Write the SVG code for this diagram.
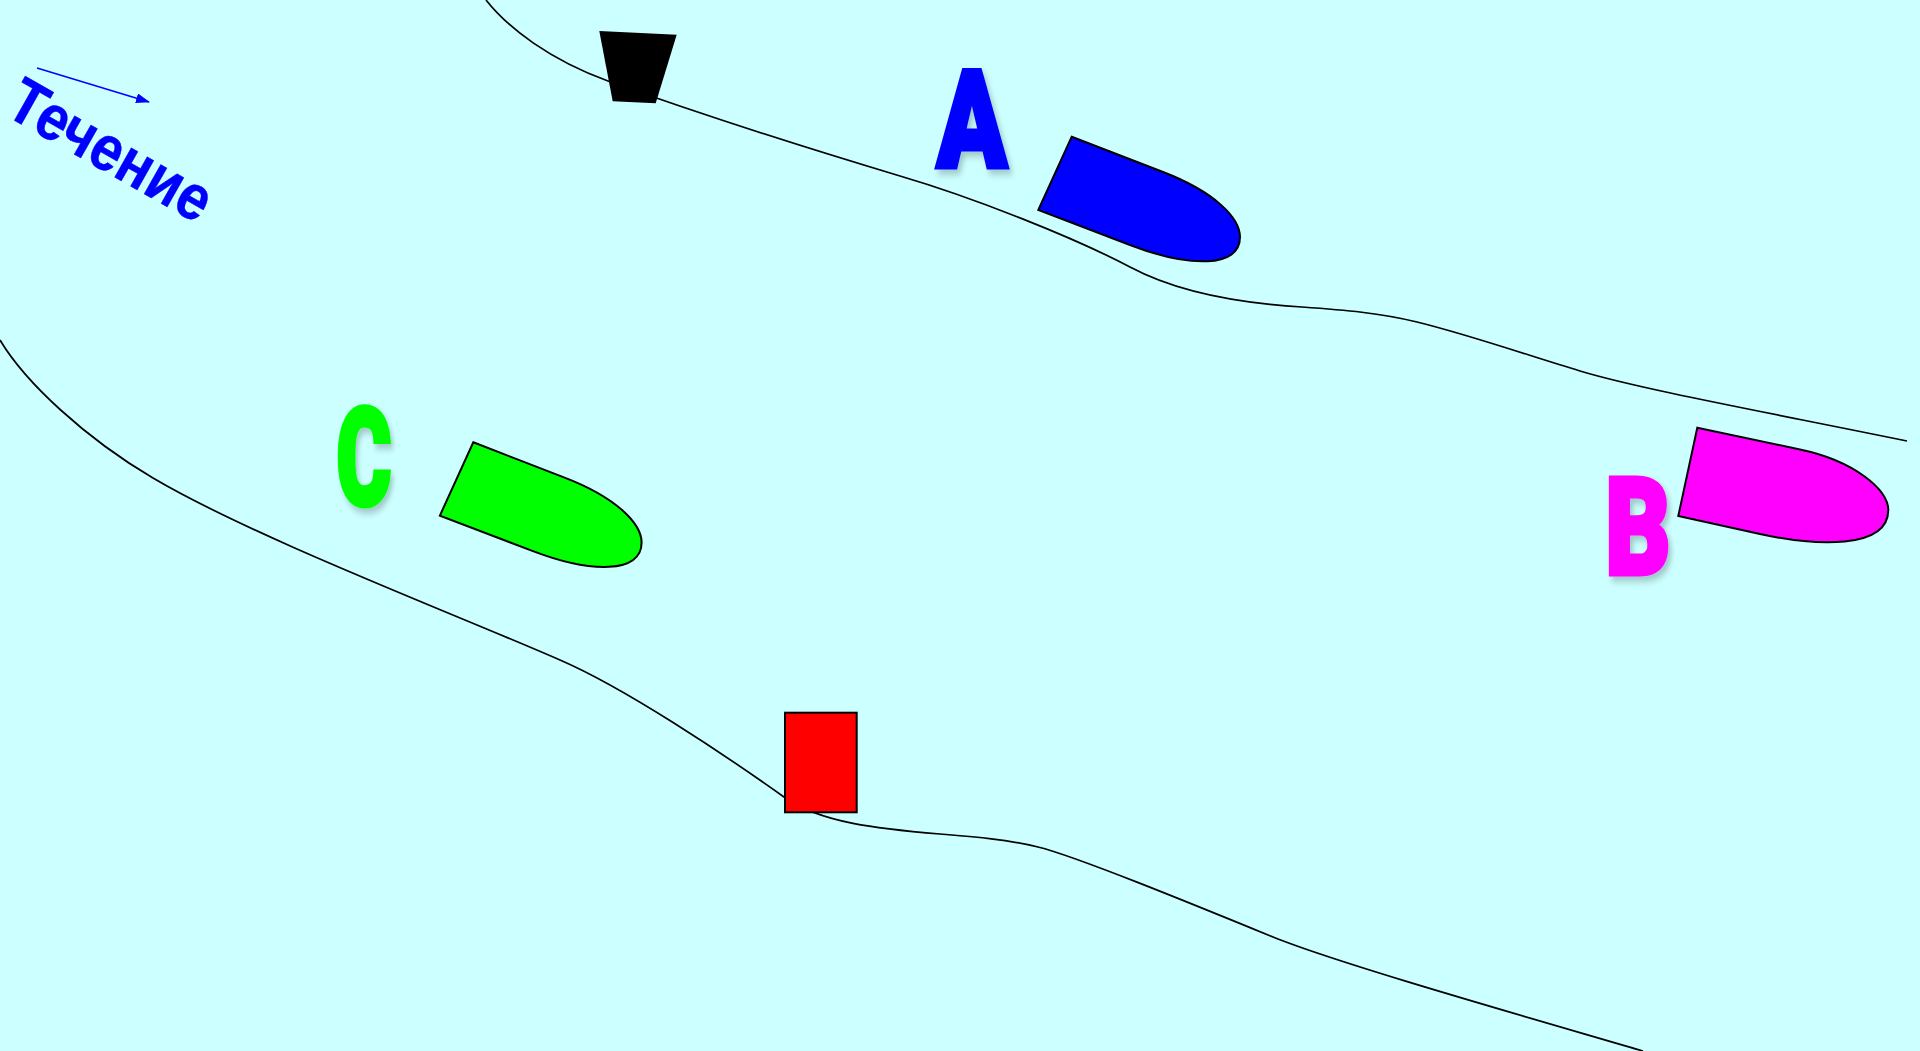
<svg xmlns="http://www.w3.org/2000/svg" width="1920" height="1051" viewBox="0 0 1920 1051">
<style>
.river{fill:none;stroke:#000;stroke-width:1.7}
.hull{stroke:#000;stroke-width:2}
.letter{font-family:Roboto,"Liberation Sans",Arial,sans-serif;font-weight:900;font-size:135px;text-anchor:middle;filter:url(#shadow);stroke-width:5}
.flow{font-family:"Liberation Sans",Arial,sans-serif;font-weight:700;font-size:57px;fill:#00f;stroke:#00f;stroke-width:.4}
</style>
<defs>
<filter id="shadow" x="-30%" y="-30%" width="160%" height="160%"><feDropShadow dx="4" dy="5" stdDeviation="3.5" flood-color="#000" flood-opacity="0.22"/></filter>
<marker id="arrow" markerUnits="userSpaceOnUse" markerWidth="14" markerHeight="10" refX="13" refY="5" orient="auto"><path d="M0 0L14 5L0 10Z" fill="#00f"/></marker>
</defs>
<rect width="1920" height="1051" fill="#ccffff"/>
<g id="connectors">
<path id="bank-upper" class="river" d="M486 0C508 28 550 60 608 81C700 114 800 146 900 176C975 198 1075 238 1130 267C1175 291 1235 303 1302 307C1345 310 1380 313 1417 322C1470 335 1530 356 1580 371C1640 389 1760 411 1907 441"/>
<path id="bank-lower" class="river" d="M0 340C25 382 85 438 153 478C253 537 450 612 560 660C625 688 725 755 784 797C820 823 880 829 940 834C970 836.5 1005 839 1038 847C1075 856 1190 903 1273 937C1340 964 1520 1015 1643 1051"/>
<line id="flow-arrow" x1="37" y1="68" x2="149" y2="102" stroke="#00f" stroke-width="1.6" marker-end="url(#arrow)"/>
</g>
<g id="label-flow"><text class="flow" transform="translate(3 114) rotate(29.5) scale(.98 1.12)">Течение</text></g>
<g id="pier-black"><polygon points="599.3,31 676.7,34.7 655.7,103.3 612.7,101.3" fill="#000"/></g>
<g id="pier-red"><rect x="785" y="712.7" width="71.7" height="99.6" fill="#f00" stroke="#000" stroke-width="2"/></g>
<g id="ship-a"><path class="hull" fill="#00f" d="M1071.7 136.7L1163 172C1215 192 1240 218 1240 237C1240 268 1190 268 1130 245L1038.3 210Z"/></g>
<g id="ship-c"><path class="hull" fill="#0f0" transform="translate(-598.4 305.6)" d="M1071.7 136.7L1163 172C1215 192 1240 218 1240 237C1240 268 1190 268 1130 245L1038.3 210Z"/></g>
<g id="ship-b"><path class="hull" fill="#f0f" d="M1697.3 427.7L1800 449.5C1855 461 1888 490 1888.3 510C1888 550 1815 546 1760 534L1678.3 516Z"/></g>
<g id="label-a"><text class="letter" fill="#00f" stroke="#00f" transform="translate(972 166.5) scale(.76 1)">A</text></g>
<g id="label-b"><text class="letter" fill="#f0f" stroke="#f0f" transform="translate(1638 574.2) scale(.75 1)">B</text></g>
<g id="label-c"><text class="letter" fill="#0f0" stroke="#0f0" transform="translate(364 505) scale(.62 1)">C</text></g>
</svg>
